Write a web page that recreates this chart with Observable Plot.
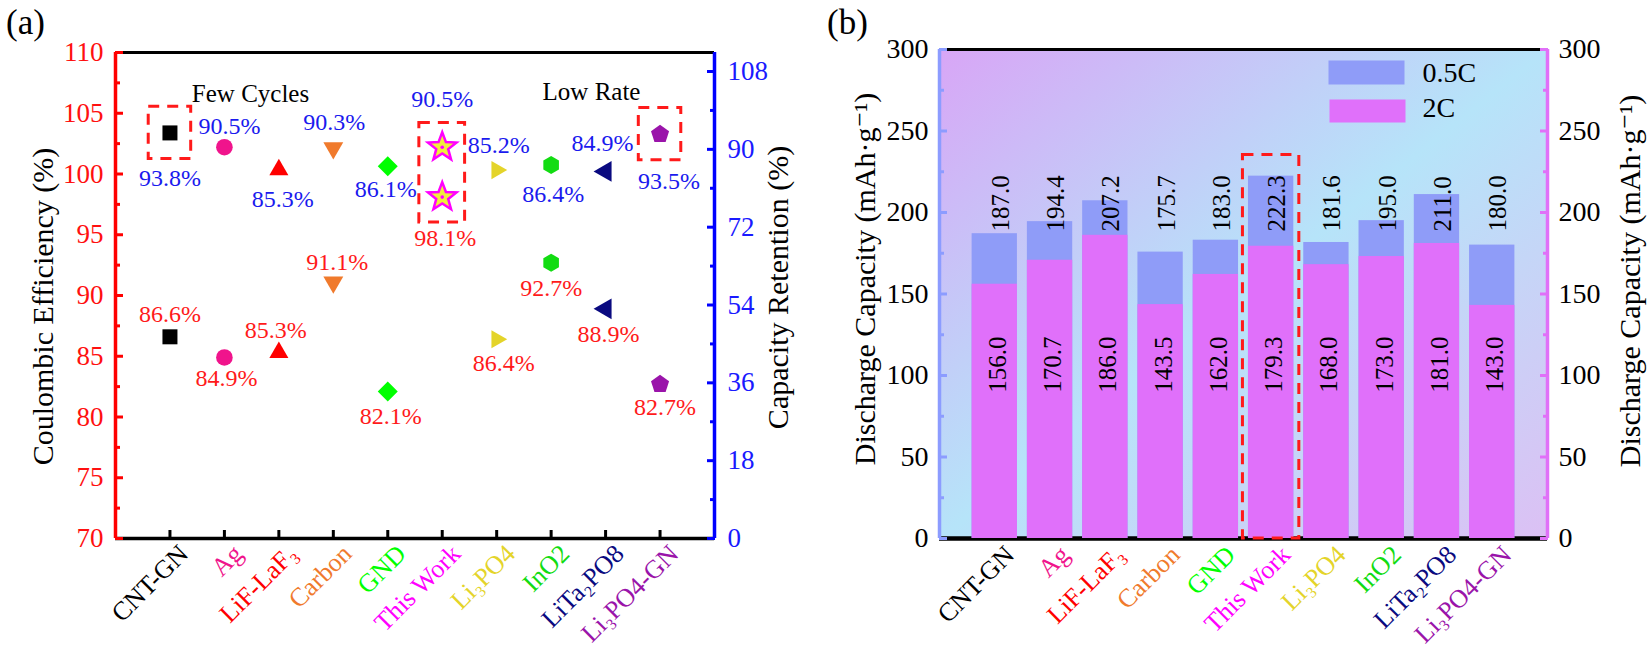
<!DOCTYPE html>
<html><head><meta charset="utf-8">
<script src="https://cdn.jsdelivr.net/npm/d3@7"></script>
<script src="https://cdn.jsdelivr.net/npm/@observablehq/plot@0.6"></script>
<style>
body{margin:0;background:#fff;}
#wrap{display:flex;width:1649px;height:652px;overflow:hidden;}
#wrap svg{overflow:visible;}
</style></head><body><div id="wrap"></div>
<script>
// ---------------- DATA ----------------
const categories = ["CNT-GN","Ag","LiF-LaF₃","Carbon","GND","This Work","Li₃PO4","InO2","LiTa₂PO8","Li₃PO4-GN"];
const categoryColors = ["#000000","#f0148c","#ff0000","#f07a2c","#00ff00","#ff00ff","#e4d42a","#12dc12","#0a0a80","#9a14aa"];
const coulombicEfficiency = [86.6,84.9,85.3,91.1,82.1,98.1,86.4,92.7,88.9,82.7];
const capacityRetention = [93.8,90.5,85.3,90.3,86.1,90.5,85.2,86.4,84.9,93.5];
const capacity05C = [187.0,194.4,207.2,175.7,183.0,222.3,181.6,195.0,211.0,180.0];
const capacity2C = [156.0,170.7,186.0,143.5,162.0,179.3,168.0,173.0,181.0,143.0];
const seriesNames = ["0.5C","2C"];
const ceTicks = [70,75,80,85,90,95,100,105,110];
const ceMinorTicks = [72.5,77.5,82.5,87.5,92.5,97.5,102.5,107.5];
const retentionTicks = [0,18,36,54,72,90,108];
const retentionMinorTicks = [9,27,45,63,81,99];
const capacityTicks = [0,50,100,150,200,250,300];
const capacityMinorTicks = [25,75,125,175,225,275];
const highlightedA = ["CNT-GN","Li₃PO4-GN"]; // boxed retention points
const highlightedBoth = "This Work";

// ---------------- STYLE / LAYOUT ----------------
const FONT = "'Liberation Serif','Times New Roman','DejaVu Serif',serif";
const RET_MAX = 112.4;              // right axis top in panel (a)
const K = 40 / RET_MAX;
const toL = r => 70 + r * K;        // retention -> left-axis units
const fromL = v => (v - 70) / K;

const deg = Math.PI / 180;
function polygon(angles, radii) {
  return {draw(c, s) {
    const r = Math.sqrt(s / Math.PI);
    angles.forEach((a, k) => {
      const x = r * radii[k] * Math.cos(a), y = r * radii[k] * Math.sin(a);
      k ? c.lineTo(x, y) : c.moveTo(x, y);
    });
    c.closePath();
  }};
}
const regular = (n, start) => polygon(d3.range(n).map(k => (start + k * 360 / n) * deg), d3.range(n).map(() => 1));
const symSquare = {draw(c, s) { const r = Math.sqrt(s / Math.PI); c.rect(-r, -r, 2 * r, 2 * r); }};
const symCircle = {draw(c, s) { const r = Math.sqrt(s / Math.PI); c.moveTo(r, 0); c.arc(0, 0, r, 0, 2 * Math.PI); }};
const symStar = polygon(d3.range(10).map(k => (-90 + k * 36) * deg), d3.range(10).map(k => k % 2 ? 0.42 : 1));
const categorySymbols = [symSquare, symCircle, regular(3,-90), regular(3,90), regular(4,-90), symStar, regular(3,0), regular(6,-90), regular(3,180), regular(5,-90)];
const symbolRadius = [7.5, 8.3, 11, 11.5, 10, 15, 10.5, 9, 12, 9.5];
// label nudges (px) [dx, dy]
const retLabelNudge = [[0,45],[5,-21],[4,30],[1,-26],[-2,23],[0,-48],[2,-25],[2,29],[-3,-28],[9,47]];
const ceLabelNudge  = [[0,-22],[2,21],[-3,-22],[4,-20],[3,25],[3,41],[7,24],[0,26],[3,25],[5,23]];

const rows = categories.map((c, i) => ({
  cat: c, idx: i + 1, color: categoryColors[i],
  ce: coulombicEfficiency[i], ret: capacityRetention[i],
  c05: capacity05C[i], c2: capacity2C[i]
}));

// ---------------- PANEL (a) ----------------
const marksA = [];
marksA.push(Plot.ruleY([110], {stroke: "black", strokeWidth: 3}));
marksA.push(Plot.ruleY([70], {stroke: "black", strokeWidth: 3.5}));
marksA.push(Plot.axisX(d3.range(1, 11), {anchor: "bottom", tickSize: -8, tickFormat: () => "", strokeWidth: 3, stroke: "black", label: null}));
marksA.push(Plot.ruleX([0], {stroke: "#ff0000", strokeWidth: 3.5}));
marksA.push(Plot.ruleX([11], {stroke: "#0000ff", strokeWidth: 3.5}));
marksA.push(Plot.axisY(ceTicks, {anchor: "left", tickSize: -8, tickPadding: 20, stroke: "#ff0000", fill: "#ff1010", strokeWidth: 3, fontSize: 27, label: null}));
marksA.push(Plot.axisY(ceMinorTicks, {anchor: "left", tickSize: -5, tickFormat: () => "", stroke: "#ff0000", strokeWidth: 3, label: null}));
marksA.push(Plot.axisY(retentionTicks.map(toL), {anchor: "right", tickSize: -8, tickPadding: 21, tickFormat: d => String(Math.round(fromL(d))), stroke: "#0000ff", fill: "#1a1aff", strokeWidth: 3, fontSize: 27, label: null}));
marksA.push(Plot.axisY(retentionMinorTicks.map(toL), {anchor: "right", tickSize: -5, tickFormat: () => "", stroke: "#0000ff", strokeWidth: 3, label: null}));

// dashed highlight boxes
const boxA = rows.filter(d => highlightedA.includes(d.cat));
marksA.push(Plot.rect(boxA, {x1: d => d.idx - 0.39, x2: d => d.idx + 0.39, y1: d => toL(d.ret) - 2.15, y2: d => toL(d.ret) + 2.15,
  fill: "none", stroke: "#ff1a1a", strokeWidth: 3, strokeDasharray: "11,8"}));
marksA.push(Plot.rect(rows.filter(d => d.cat === highlightedBoth), {x1: d => d.idx - 0.42, x2: d => d.idx + 0.42, y1: d => d.ce - 2.1, y2: d => toL(d.ret) + 2.0,
  fill: "none", stroke: "#ff1a1a", strokeWidth: 3, strokeDasharray: "11,8"}));

rows.forEach((d, i) => {
  const isStar = categorySymbols[i] === symStar;
  const style = isStar ? {fill: "#f2ee3a", stroke: "#ff00ff", strokeWidth: 2.5} : {fill: d.color, stroke: "none"};
  marksA.push(Plot.dot([d], {x: "idx", y: q => toL(q.ret), symbol: categorySymbols[i], r: symbolRadius[i], ...style}));
  marksA.push(Plot.dot([d], {x: "idx", y: "ce", symbol: categorySymbols[i], r: symbolRadius[i], ...style}));
  if (isStar) {
    marksA.push(Plot.dot([d], {x: "idx", y: q => toL(q.ret), r: 1.8, fill: "#ff00ff"}));
    marksA.push(Plot.dot([d], {x: "idx", y: "ce", r: 1.8, fill: "#ff00ff"}));
  }
  marksA.push(Plot.text([d], {x: "idx", y: q => toL(q.ret), text: q => q.ret.toFixed(1) + "%", fill: "#1a1aee", fontSize: 24, dx: retLabelNudge[i][0], dy: retLabelNudge[i][1]}));
  marksA.push(Plot.text([d], {x: "idx", y: "ce", text: q => q.ce.toFixed(1) + "%", fill: "#ff1a1a", fontSize: 24, dx: ceLabelNudge[i][0], dy: ceLabelNudge[i][1]}));
});
// category tick labels
marksA.push(Plot.text(rows, {x: "idx", y: () => 70, text: "cat", fill: "color", rotate: -45, textAnchor: "end", lineAnchor: "middle", fontSize: 26, dx: 14, dy: 11}));
// annotations and titles
marksA.push(Plot.text(["Few Cycles"], {frameAnchor: "top-left", dx: 135, dy: 41, textAnchor: "middle", lineAnchor: "middle", fontSize: 25, fill: "black"}));
marksA.push(Plot.text(["Low Rate"], {frameAnchor: "top-left", dx: 476, dy: 39, textAnchor: "middle", lineAnchor: "middle", fontSize: 25, fill: "black"}));
marksA.push(Plot.text(["Coulombic Efficiency (%)"], {frameAnchor: "left", rotate: -90, dx: -72, dy: 11, textAnchor: "middle", lineAnchor: "middle", fontSize: 30, fill: "black"}));
marksA.push(Plot.text(["Capacity Retention (%)"], {frameAnchor: "right", rotate: -90, dx: 64, dy: -8, textAnchor: "middle", lineAnchor: "middle", fontSize: 30, fill: "black"}));
marksA.push(Plot.text(["(a)"], {frameAnchor: "top-left", dx: -90, dy: -30, textAnchor: "middle", lineAnchor: "middle", fontSize: 35, fill: "black"}));

const plotA = Plot.plot({
  width: 820, height: 652,
  marginLeft: 115, marginRight: 106, marginTop: 52, marginBottom: 114,
  x: {domain: [0, 11], axis: null},
  y: {domain: [70, 110], axis: null},
  style: {fontFamily: FONT, fontSize: "27px", background: "transparent", overflow: "visible"},
  marks: marksA
});

// ---------------- PANEL (b) ----------------
const BLUE = "#8f9cf8", PINK = "#e070fa";
const marksB = [];
marksB.push(() => {
  const defs = d3.create("svg:defs");
  const g = defs.append("linearGradient").attr("id", "bgGrad").attr("x1", "0").attr("y1", "0").attr("x2", "1").attr("y2", "1");
  g.append("stop").attr("offset", "0%").attr("stop-color", "#d8a6f6");
  g.append("stop").attr("offset", "50%").attr("stop-color", "#b6e4f9");
  g.append("stop").attr("offset", "100%").attr("stop-color", "#dcc0f4");
  return defs.node();
});
marksB.push(Plot.frame({fill: "url(#bgGrad)", stroke: "none"}));
marksB.push(Plot.ruleY([0], {stroke: "black", strokeWidth: 4.5}));
marksB.push(Plot.rect(rows, {x1: d => d.idx - 0.41, x2: d => d.idx + 0.41, y1: 0, y2: "c05", fill: BLUE}));
marksB.push(Plot.rect(rows, {x1: d => d.idx - 0.41, x2: d => d.idx + 0.41, y1: 0, y2: "c2", fill: PINK}));
marksB.push(Plot.ruleY([300], {stroke: "black", strokeWidth: 3}));
marksB.push(Plot.ruleX([0], {stroke: "#8c9cff", strokeWidth: 3.5}));
marksB.push(Plot.ruleX([11], {stroke: "#e070f8", strokeWidth: 3.5}));
marksB.push(Plot.axisY(capacityTicks, {anchor: "left", tickSize: -8, tickPadding: 19, stroke: "#8c9cff", fill: "black", strokeWidth: 3, fontSize: 28, label: null}));
marksB.push(Plot.axisY(capacityMinorTicks, {anchor: "left", tickSize: -5, tickFormat: () => "", stroke: "#8c9cff", strokeWidth: 3, label: null}));
marksB.push(Plot.axisY(capacityTicks, {anchor: "right", tickSize: -8, tickPadding: 19, stroke: "#e070f8", fill: "black", strokeWidth: 3, fontSize: 28, label: null}));
marksB.push(Plot.axisY(capacityMinorTicks, {anchor: "right", tickSize: -5, tickFormat: () => "", stroke: "#e070f8", strokeWidth: 3, label: null}));
// value labels
marksB.push(Plot.text(rows, {x: "idx", frameAnchor: "bottom", dy: -307, dx: 6, text: d => d.c05.toFixed(1), rotate: -90, textAnchor: "start", lineAnchor: "middle", fontSize: 25, fill: "black"}));
marksB.push(Plot.text(rows, {x: "idx", frameAnchor: "bottom", dy: -174, dx: 3, text: d => d.c2.toFixed(1), rotate: -90, textAnchor: "middle", lineAnchor: "middle", fontSize: 25, fill: "black"}));
// highlight box
marksB.push(Plot.rect(rows.filter(d => d.cat === highlightedBoth), {x1: d => d.idx - 0.51, x2: d => d.idx + 0.51, y1: 0, y2: d => d.c05 + 13,
  fill: "none", stroke: "#ff1a1a", strokeWidth: 3, strokeDasharray: "11,8"}));
// category labels
marksB.push(Plot.text(rows, {x: "idx", y: () => 0, text: "cat", fill: "color", rotate: -45, textAnchor: "end", lineAnchor: "middle", fontSize: 26, dx: 15, dy: 12}));
// legend
marksB.push(Plot.frame({fill: BLUE, insetLeft: 389, insetRight: 143, insetTop: 11, insetBottom: 454}));
marksB.push(Plot.frame({fill: PINK, insetLeft: 390, insetRight: 142, insetTop: 50, insetBottom: 416}));
marksB.push(Plot.text([seriesNames[0]], {frameAnchor: "top-left", dx: 483, dy: 24, textAnchor: "start", lineAnchor: "middle", fontSize: 28, fill: "black"}));
marksB.push(Plot.text([seriesNames[1]], {frameAnchor: "top-left", dx: 483, dy: 59, textAnchor: "start", lineAnchor: "middle", fontSize: 28, fill: "black"}));
// titles
marksB.push(Plot.text(["Discharge Capacity (mAh·g⁻¹)"], {frameAnchor: "left", rotate: -90, dx: -74, dy: -15, textAnchor: "middle", lineAnchor: "middle", fontSize: 30, fill: "black"}));
marksB.push(Plot.text(["Discharge Capacity (mAh·g⁻¹)"], {frameAnchor: "right", rotate: -90, dx: 83, dy: -13, textAnchor: "middle", lineAnchor: "middle", fontSize: 30, fill: "black"}));
marksB.push(Plot.text(["(b)"], {frameAnchor: "top-left", dx: -92, dy: -27, textAnchor: "middle", lineAnchor: "middle", fontSize: 35, fill: "black"}));

const plotB = Plot.plot({
  width: 829, height: 652,
  marginLeft: 119, marginRight: 102, marginTop: 49, marginBottom: 114,
  x: {domain: [0, 11], axis: null},
  y: {domain: [0, 300], axis: null},
  style: {fontFamily: FONT, fontSize: "28px", background: "transparent", overflow: "visible"},
  marks: marksB
});

document.getElementById("wrap").append(plotA, plotB);
</script></body></html>
